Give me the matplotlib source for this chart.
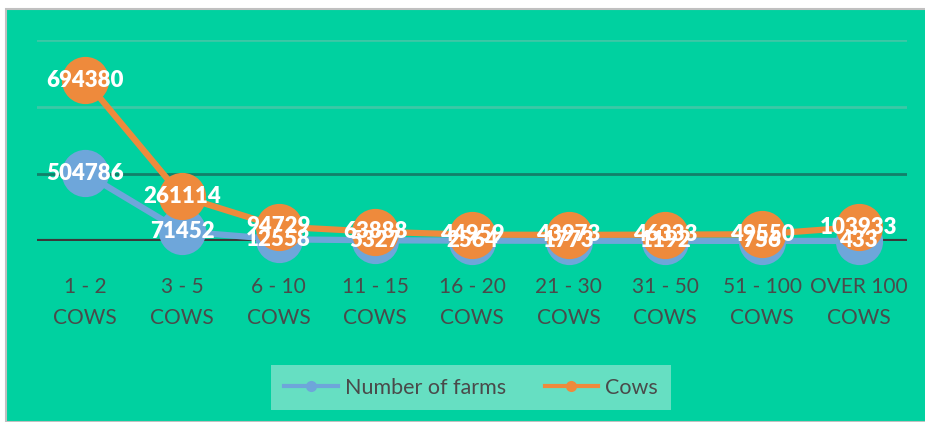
import matplotlib.pyplot as plt
import numpy as np
from matplotlib.lines import Line2D
from matplotlib.patches import Rectangle

categories = ['1 - 2\nCOWS', '3 - 5\nCOWS', '6 - 10\nCOWS', '11 - 15\nCOWS', '16 - 20\nCOWS',
              '21 - 30\nCOWS', '31 - 50\nCOWS', '51 - 100\nCOWS', 'OVER 100\nCOWS']
farms = [504786, 71452, 12558, 5327, 2564, 1773, 1192, 756, 433]
cows = [694380, 261114, 94729, 63888, 44959, 43973, 46333, 49550, 103933]

BG = '#00D1A0'
BLUE = '#6EA6DA'
ORANGE = '#EE8A3C'
TEXT = '#4A4A4A'

plt.rcParams['font.family'] = ['Lato', 'DejaVu Sans']

fig = plt.figure(figsize=(9.25, 4.22), dpi=100, facecolor='white')
fig.patches.append(Rectangle((6 / 925, 0), 1, 1 - 9 / 422, transform=fig.transFigure,
                             facecolor=BG, edgecolor='#C0C0C0', linewidth=1.5, zorder=-10))

ax = fig.add_axes([37 / 925, (422 - 241) / 422, 870 / 925, 201 / 422])
ax.set_facecolor('none')
for s in ax.spines.values():
    s.set_visible(False)

x = np.arange(len(categories))
stacked = np.array(farms) + np.array(cows)

# horizontal gridlines
grid_colors = ['#3A3A3A', '#12806A', '#3CC8A6', '#3CC8A6']
for v, c in zip([0, 500000, 1000000, 1500000], grid_colors):
    ax.axhline(v, color=c, linewidth=3 if v == 0 else 2, zorder=1)

ax.plot(x, farms, color=BLUE, linewidth=4.5, marker='o', markersize=34,
        markeredgewidth=0, zorder=3, clip_on=False)
ax.plot(x, stacked, color=ORANGE, linewidth=4.5, marker='o', markersize=34,
        markeredgewidth=0, zorder=4, clip_on=False)

for xi, v in zip(x, farms):
    ax.text(xi, v, str(v), ha='center', va='center', color='white', fontsize=16,
            fontweight='heavy', zorder=5)
for xi, v, s in zip(x, cows, stacked):
    ax.text(xi, s, str(v), ha='center', va='center', color='white', fontsize=16,
            fontweight='heavy', zorder=5)

ax.set_xlim(-0.5, len(categories) - 0.5)
ax.set_ylim(0, 1500000)
ax.set_yticks([])
ax.set_xticks(x)
ax.set_xticklabels(categories, fontsize=15, color=TEXT, linespacing=1.65)
ax.tick_params(axis='x', length=0, pad=26)

handles = [
    Line2D([], [], color=BLUE, linewidth=3, marker='o', markersize=8, markeredgewidth=0),
    Line2D([], [], color=ORANGE, linewidth=3, marker='o', markersize=8, markeredgewidth=0),
]
leg = fig.legend(handles, ['Number of farms', 'Cows'], loc='center',
                 bbox_to_anchor=(471 / 925, 1 - 387.5 / 422), ncol=2, fontsize=15.5,
                 frameon=True, fancybox=False, facecolor='#66DFC2', edgecolor='none',
                 framealpha=1, handlelength=2.5, handletextpad=0.3, columnspacing=1.8,
                 borderpad=0.6, borderaxespad=0)
leg.get_frame().set_boxstyle('square', pad=0)
for t in leg.get_texts():
    t.set_color(TEXT)

fig.savefig('out.png', dpi=100, facecolor='white')
